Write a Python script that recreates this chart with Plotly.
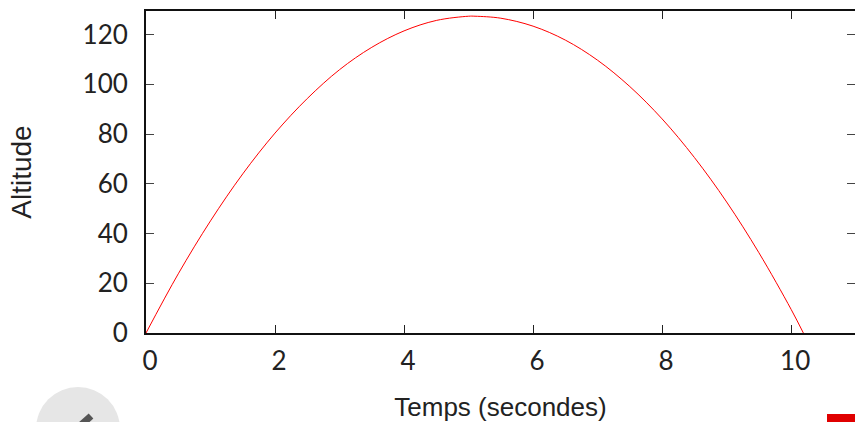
import plotly.graph_objects as go

temps = [0, 0.5, 1, 1.5, 2, 2.5, 3, 3.5, 4, 4.5, 5, 5.1, 5.5, 6, 6.5, 7, 7.5, 8, 8.5, 9, 9.5, 10, 10.19]
altitude = [0, 23.8, 45.1, 64.0, 80.4, 94.3, 105.9, 114.9, 121.5, 125.7, 127.4, 127.4, 126.6, 123.4,
            117.8, 109.7, 99.1, 86.1, 70.6, 52.7, 32.3, 9.5, 0]
x_ticks = [0, 2, 4, 6, 8, 10]
y_ticks = [0, 20, 40, 60, 80, 100, 120]
x_title = "Temps (secondes)"
y_title = "Altitude"

TICK_FONT = "Lato, 'Liberation Sans', sans-serif"
TITLE_FONT = "'Liberation Sans', sans-serif"

fig = go.Figure()
fig.add_trace(go.Scatter(x=temps, y=altitude, mode="lines", cliponaxis=True,
                         line=dict(color="#ff0000", width=1, shape="spline", smoothing=1),
                         hoverinfo="skip", showlegend=False))
# invisible companion trace: only makes the right-hand tick marks appear
fig.add_trace(go.Scatter(x=temps[:1], y=altitude[:1], yaxis="y2", mode="markers", opacity=0,
                         hoverinfo="skip", showlegend=False))


# cropped page furniture along the bottom edge (pixel positions on the page)
def px(x):
    return (x - 146) / 709


def py(y):
    return (333 - y) / 322


tick_font = dict(family=TICK_FONT, size=26, color="#222222")

fig.update_layout(
    width=855, height=422,
    margin=dict(l=146, r=0, t=11, b=89),
    paper_bgcolor="white", plot_bgcolor="white",
    font=dict(family=TICK_FONT, size=25, color="#111111"),
    xaxis=dict(range=[0, 10.99], tickvals=x_ticks, ticks="inside", ticklen=8, tickwidth=1,
               tickcolor="#222222", showline=True, linecolor="#111111", linewidth=2, mirror="ticks",
               showgrid=False, zeroline=False, ticklabelshift=4, ticklabelstandoff=4, tickfont=tick_font,
               title=dict(text=x_title, standoff=23, font=dict(family=TITLE_FONT, size=26, color="#222222"))),
    yaxis=dict(range=[0, 129.5], tickvals=y_ticks, ticks="inside", ticklen=8, tickwidth=1,
               tickcolor="#444444", showline=True, linecolor="#111111", linewidth=2,
               showgrid=False, zeroline=False, ticklabelstandoff=11, tickfont=tick_font,
               title=dict(text=y_title, standoff=43, font=dict(family=TITLE_FONT, size=28, color="#222222"))),
    yaxis2=dict(range=[0, 129.5], overlaying="y", side="right", tickvals=y_ticks, ticks="inside",
                ticklen=8, tickwidth=1, tickcolor="#444444", showticklabels=False,
                showline=False, showgrid=False, zeroline=False),
    shapes=[
        dict(type="circle", xref="paper", yref="paper", layer="above",
             x0=px(36), x1=px(120), y0=py(471), y1=py(387), fillcolor="#e6e6e6", line_width=0),
        dict(type="line", xref="paper", yref="paper", layer="above",
             x0=px(81), x1=px(91), y0=py(425), y1=py(416), line=dict(color="#555555", width=7)),
        dict(type="rect", xref="paper", yref="paper", layer="above",
             x0=px(827), x1=px(856), y0=py(423), y1=py(414), fillcolor="#e00000", line_width=0),
    ],
)

fig.write_html("out.html", config=dict(displayModeBar=False),
               post_script="document.body.style.margin='0';document.body.style.overflow='hidden';")
